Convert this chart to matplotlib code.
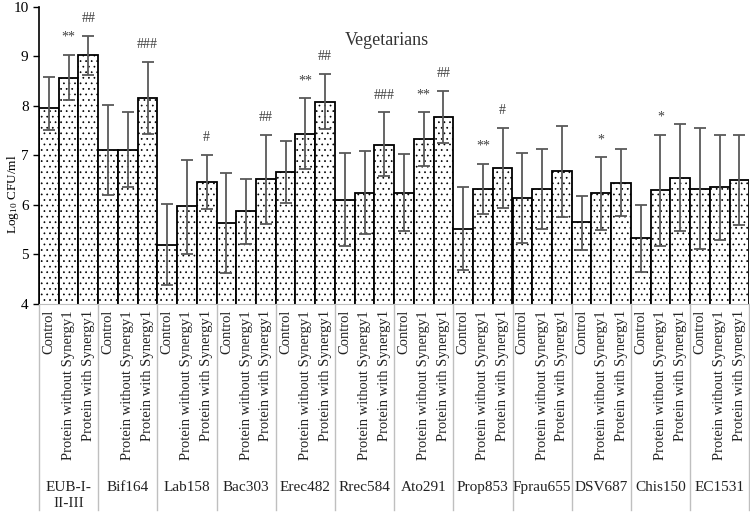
import matplotlib
import matplotlib.pyplot as plt
import matplotlib.transforms as mtransforms
import numpy as np

matplotlib.use('Agg')

plt.rcParams['font.family'] = ['Liberation Serif', 'DejaVu Serif']
plt.rcParams['mathtext.fontset'] = 'custom'
plt.rcParams['mathtext.rm'] = 'Liberation Serif'
plt.rcParams['mathtext.it'] = 'Liberation Serif:italic'
plt.rcParams['hatch.linewidth'] = 0.5
plt.rcParams['hatch.color'] = '#555555'

# --- data ---
groups = ['EUB-I-\nII-III', 'Bif164', 'Lab158', 'Bac303', 'Erec482', 'Rrec584',
          'Ato291', 'Prop853', 'Fprau655', 'DSV687', 'Chis150', 'EC1531']
conditions = ['Control', 'Protein without Synergy1', 'Protein with Synergy1']

control_mean = [7.95, 7.11, 5.20, 5.64, 6.66, 6.11, 6.25, 5.52, 6.15, 5.65, 5.33, 6.32]
control_hi = [8.59, 8.03, 6.01, 6.65, 7.30, 7.06, 7.03, 6.36, 7.06, 6.19, 6.00, 7.55]
control_lo = [7.51, 6.20, 4.39, 4.63, 6.05, 5.17, 5.47, 4.69, 5.23, 5.10, 4.65, 5.11]

without_mean = [8.57, 7.12, 5.97, 5.87, 7.44, 6.25, 7.33, 6.32, 6.32, 6.24, 6.30, 6.36]
without_hi = [9.04, 7.87, 6.90, 6.52, 8.16, 7.09, 7.87, 6.83, 7.14, 6.97, 7.42, 7.42]
without_lo = [8.12, 6.37, 5.01, 5.21, 6.72, 5.41, 6.79, 5.82, 5.51, 5.49, 5.17, 5.29]

with_mean = [9.02, 8.17, 6.46, 6.52, 8.08, 7.22, 7.78, 6.74, 6.68, 6.45, 6.55, 6.50]
with_hi = [9.41, 8.89, 7.02, 7.42, 8.64, 7.87, 8.31, 7.55, 7.60, 7.13, 7.63, 7.41]
with_lo = [8.62, 7.43, 5.92, 5.62, 7.53, 6.59, 7.26, 5.94, 5.76, 5.77, 5.48, 5.60]

without_marks = ['**', '', '', '', '**', '', '**', '**', '', '*', '*', '']
with_marks = ['##', '###', '#', '##', '##', '###', '##', '#', '', '', '', '']

# interleave into one bar per (group, condition)
means = np.column_stack([control_mean, without_mean, with_mean]).ravel()
hi = np.column_stack([control_hi, without_hi, with_hi]).ravel()
lo = np.column_stack([control_lo, without_lo, with_lo]).ravel()
marks = np.column_stack([[''] * len(groups), without_marks, with_marks]).ravel()
x = np.arange(len(means)) + 0.5

fig = plt.figure(figsize=(7.5, 5.13), dpi=100)
ax = fig.add_axes([0.052, 0.4074, 0.947, 0.579])

ax.bar(x, means, width=1.0, bottom=0, color='white', edgecolor='black',
       linewidth=1.3, hatch='...', zorder=2)
ax.errorbar(x, means, yerr=[means - lo, hi - means], fmt='none',
            ecolor='#595959', elinewidth=1.3, capsize=4, capthick=1.3, zorder=3)

for xi, h, m in zip(x, hi, marks):
    if m:
        ax.annotate(m, (xi, h), xytext=(0, 10), textcoords='offset points',
                    ha='center', va='baseline', fontsize=10, color='#404040')

ax.set_ylim(4, 10)
ax.set_xlim(0, len(means))
ax.set_yticks(range(4, 11))
ax.tick_params(axis='y', labelsize=11, length=4, width=1, direction='out')
ax.set_xticks([])
ax.set_ylabel('Log$_{10}$ CFU/ml', fontsize=9.5)
ax.yaxis.set_label_coords(-0.026, 0.37)
ax.text(0.49, 0.886, 'Vegetarians', transform=ax.transAxes, ha='center',
        va='center', fontsize=13, color='#333333')

for s in ['top', 'right']:
    ax.spines[s].set_visible(False)
ax.spines['left'].set_linewidth(1.2)
ax.spines['bottom'].set_color('#bfbfbf')

# two-level category axis drawn below the plot
trans = mtransforms.blended_transform_factory(ax.transData, ax.transAxes)
for xi, i in zip(x, range(len(means))):
    ax.text(xi, -0.02, conditions[i % 3], transform=trans, rotation=90,
            ha='center', va='top', fontsize=10.5, color='#222222')
for g, name in enumerate(groups):
    ax.text(3 * g + 1.5, -0.595, name, transform=trans, ha='center', va='top',
            fontsize=11, color='#222222', linespacing=1.3)
for g in range(len(groups) + 1):
    ax.plot([3 * g, 3 * g], [0, -0.695], transform=trans, color='#bfbfbf',
            linewidth=1, clip_on=False)

fig.savefig('out.png', dpi=100)
